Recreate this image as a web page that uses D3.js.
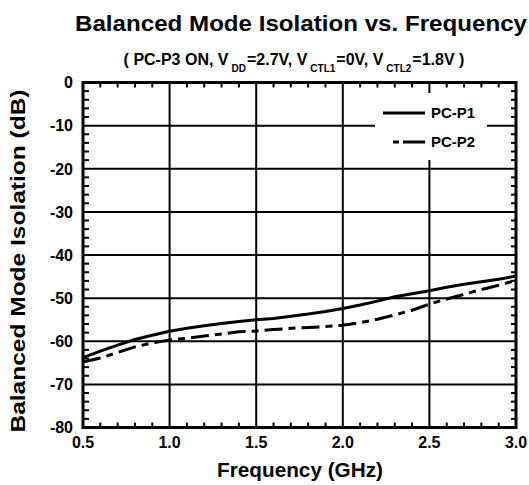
<!DOCTYPE html>
<html><head><meta charset="utf-8">
<script src="https://cdn.jsdelivr.net/npm/d3@7/dist/d3.min.js"></script>
<style>body{margin:0;background:#fff}svg{display:block}text{font-family:"Liberation Sans",Arial,sans-serif;font-weight:bold;fill:#000}</style>
</head><body>
<svg id="c" width="529" height="485"></svg>
<script>
const freq = [0.5,0.6,0.7,0.8,0.9,1.0,1.1,1.2,1.3,1.4,1.5,1.6,1.7,1.8,1.9,2.0,2.1,2.2,2.3,2.4,2.5,2.6,2.7,2.8,2.9,3.0];
const pcP1 = [-63.8,-62.3,-60.9,-59.6,-58.6,-57.7,-57.0,-56.4,-55.9,-55.4,-55.0,-54.7,-54.2,-53.7,-53.1,-52.4,-51.6,-50.7,-49.7,-49.0,-48.3,-47.5,-46.8,-46.2,-45.6,-44.9];
const pcP2 = [-64.8,-63.9,-62.6,-61.3,-60.4,-59.7,-59.3,-58.8,-58.3,-57.8,-57.6,-57.3,-57.0,-56.8,-56.6,-56.3,-55.7,-54.9,-53.9,-52.8,-51.4,-50.2,-49.1,-48.0,-47.0,-45.9];
const xTicks = [0.5,1.0,1.5,2.0,2.5,3.0];
const yTicks = [0,-10,-20,-30,-40,-50,-60,-70,-80];
const seriesNames = ["PC-P1","PC-P2"];

const svg = d3.select("#c");
const L=83, R=516, T=82.5, B=427.5;
const x = d3.scaleLinear().domain([0.5,3.0]).range([L,R]);
const y = d3.scaleLinear().domain([-80,0]).range([B,T]);

// grid
const g = svg.append("g");
g.selectAll(".vg").data(xTicks.slice(1,-1)).join("line")
  .attr("x1",d=>x(d)).attr("x2",d=>x(d)).attr("y1",T).attr("y2",B)
  .attr("stroke","#000").attr("stroke-width",2);
g.selectAll(".hg").data(yTicks.slice(1,-1)).join("line")
  .attr("x1",L).attr("x2",R).attr("y1",d=>y(d)).attr("y2",d=>y(d))
  .attr("stroke","#000").attr("stroke-width",2);

// minor ticks
const xMinor = d3.range(0.6,3.0,0.1).filter(v=>Math.abs(v*2-Math.round(v*2))>1e-6);
const yMinor = d3.range(-78,0,2).filter(v=>v%10!==0);
const tk = svg.append("g").attr("stroke","#000").attr("stroke-width",2);
xMinor.forEach(v=>{
  tk.append("line").attr("x1",x(v)).attr("x2",x(v)).attr("y1",B).attr("y2",B-5);
  tk.append("line").attr("x1",x(v)).attr("x2",x(v)).attr("y1",T).attr("y2",T+5);
});
yMinor.forEach(v=>{
  tk.append("line").attr("x1",L).attr("x2",L+6).attr("y1",y(v)).attr("y2",y(v));
  tk.append("line").attr("x1",R).attr("x2",R-5).attr("y1",y(v)).attr("y2",y(v));
});

// data lines
const line = d3.line().x((d,i)=>x(freq[i])).y(d=>y(d));
svg.append("path").datum(pcP2).attr("d",line).attr("fill","none")
  .attr("stroke","#000").attr("stroke-width",3).attr("stroke-dasharray","18,6,7,6");
svg.append("path").datum(pcP1).attr("d",line).attr("fill","none")
  .attr("stroke","#000").attr("stroke-width",3);

// legend
const lg = svg.append("g");
lg.append("rect").attr("x",375).attr("y",93).attr("width",112).attr("height",67).attr("fill","#fff");
lg.append("line").attr("x1",383).attr("x2",425).attr("y1",113).attr("y2",113)
  .attr("stroke","#000").attr("stroke-width",3);
lg.append("line").attr("x1",393).attr("x2",425).attr("y1",142).attr("y2",142)
  .attr("stroke","#000").attr("stroke-width",3).attr("stroke-dasharray","6,4,22,0");
lg.selectAll("text").data(seriesNames).join("text")
  .attr("x",431).attr("y",(d,i)=>118+i*29).attr("font-size",15).text(d=>d);

// frame
svg.append("rect").attr("x",L).attr("y",T).attr("width",R-L).attr("height",B-T)
  .attr("fill","none").attr("stroke","#000").attr("stroke-width",3);

// axis labels
svg.selectAll(".xl").data(xTicks).join("text")
  .attr("x",d=>x(d)).attr("y",448).attr("text-anchor","middle").attr("font-size",16)
  .text(d=>d.toFixed(1));
svg.selectAll(".yl").data(yTicks).join("text")
  .attr("x",73).attr("y",d=>y(d)).attr("dy","0.36em").attr("text-anchor","end").attr("font-size",16)
  .text(d=>d);

// titles
svg.append("text").attr("x",75).attr("y",31).attr("font-size",22)
  .attr("textLength",452).attr("lengthAdjust","spacingAndGlyphs")
  .text("Balanced Mode Isolation vs. Frequency");

const st = svg.append("text").attr("x",294).attr("y",65).attr("text-anchor","middle").attr("font-size",16);
const parts = [["( PC-P3 ON, V",0],["DD",1],["=2.7V, V",0],["CTL1",1],["=0V, V",0],["CTL2",1],["=1.8V )",0]];
let prevSub = 0;
parts.forEach(([t,s])=>{
  const ts = st.append("tspan").text(t);
  if(s){ ts.attr("font-size",10).attr("dy",7).attr("dx",3); }
  else if(prevSub){ ts.attr("dy",-7).attr("dx",1); }
  prevSub = s;
});

svg.append("text").attr("x",300).attr("y",477).attr("text-anchor","middle").attr("font-size",20)
  .attr("textLength",166).attr("lengthAdjust","spacingAndGlyphs").text("Frequency (GHz)");

svg.append("text").attr("transform","translate(25,261) rotate(-90)").attr("text-anchor","middle")
  .attr("font-size",21).attr("textLength",343).attr("lengthAdjust","spacingAndGlyphs")
  .text("Balanced Mode Isolation (dB)");
</script>
</body></html>
